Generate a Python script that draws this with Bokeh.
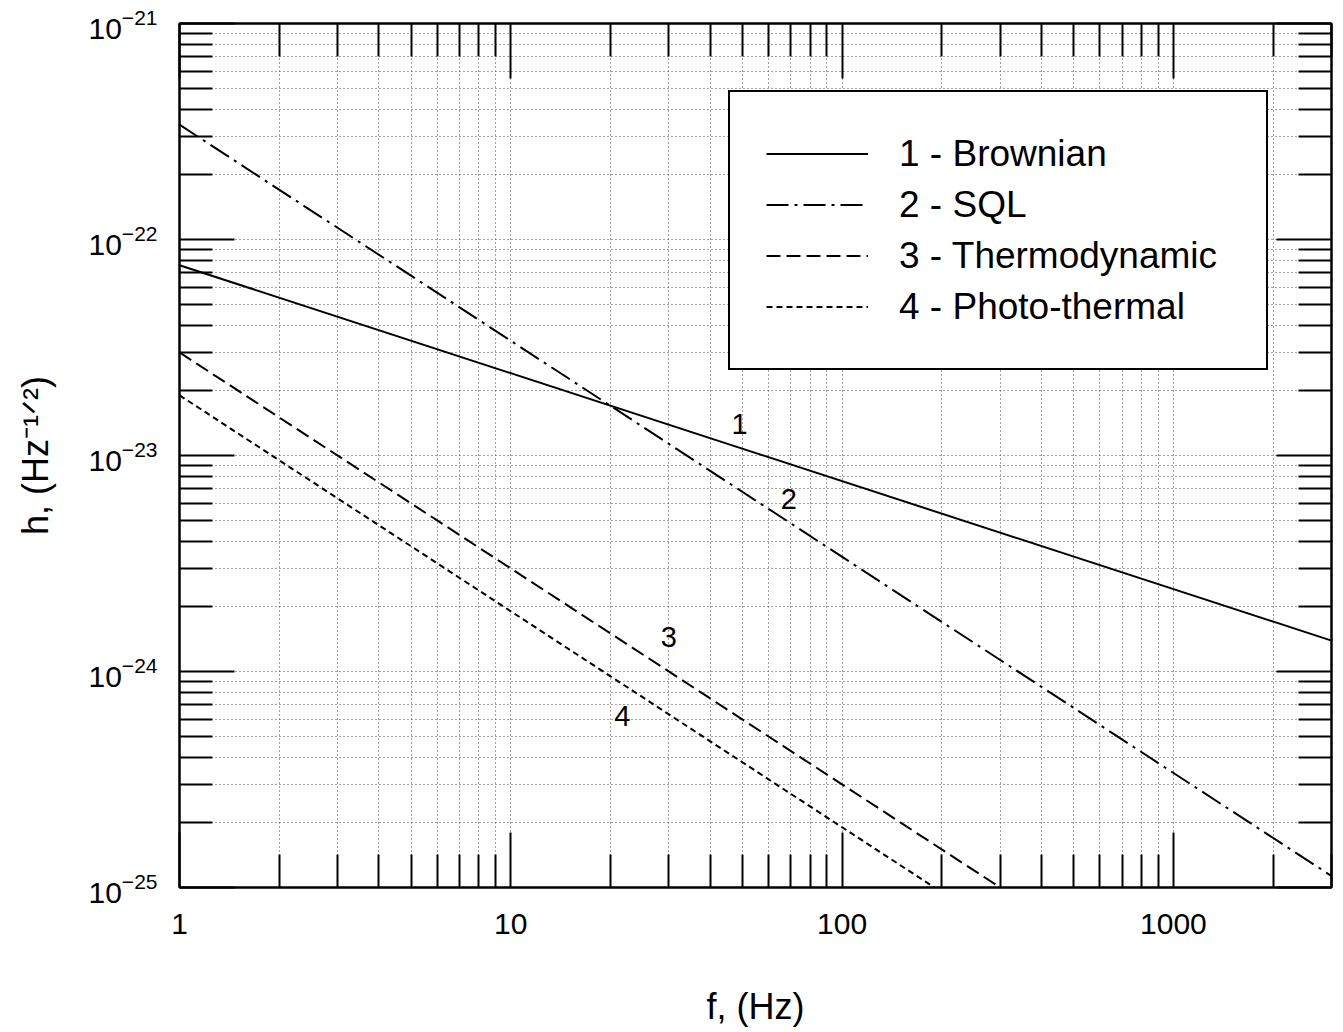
from bokeh.plotting import figure
from bokeh.models import (LogAxis, FixedTicker, Legend, LegendItem, Range1d,
                          BasicTickFormatter, CustomJSTickFormatter, LogTickFormatter)
from bokeh.core.properties import value
from bokeh.embed import file_html
from bokeh.resources import INLINE

FONT = "Liberation Sans"

# ---------------- data ----------------
brownian_f = [1, 3000]
brownian_h = [7.6e-23, 1.39e-24]
sql_f = [1, 3000]
sql_h = [3.4e-22, 1.13e-25]
thermo_f = [1, 300]
thermo_h = [3.0e-23, 1.0e-25]
photo_f = [1, 190]
photo_h = [1.9e-23, 1.0e-25]

legend_labels = ["1 - Brownian", "2 - SQL", "3 - Thermodynamic", "4 - Photo-thermal"]
curve_tags = ["1", "2", "3", "4"]
tag_f = [49, 69, 30, 21.7]
tag_h = [1.4e-23, 6.3e-24, 1.44e-24, 6.2e-25]

x_major = [1, 10, 100, 1000]
x_minor = [2, 3, 4, 5, 6, 7, 8, 9, 20, 30, 40, 50, 60, 70, 80, 90,
           200, 300, 400, 500, 600, 700, 800, 900, 2000, 3000]
x_tick_labels = ["1", "10", "100", "1000"]
y_major = [1e-25, 1e-24, 1e-23, 1e-22, 1e-21]
y_minor = [m * d for d in [1e-25, 1e-24, 1e-23, 1e-22] for m in range(2, 10)]

x_title = "f, (Hz)"
y_title = "h, (Hz\u207b\u00b9\u141f\u00b2)"

# ---------------- figure ----------------
p = figure(width=1343, height=1032, x_axis_type="log", y_axis_type="log",
           x_range=Range1d(1, 3000), y_range=Range1d(1e-25, 1e-21),
           output_backend="svg", toolbar_location=None,
           min_border_left=179, min_border_right=12, min_border_top=23,
           min_border_bottom=145)
p.outline_line_color = "black"
p.outline_line_width = 2
p.background_fill_color = "white"
p.border_fill_color = "white"


def style_axis(ax, major, minor, labels):
    ax.ticker = FixedTicker(ticks=major, minor_ticks=minor)
    ax.axis_line_width = 2
    ax.axis_line_color = "black"
    ax.major_tick_in = 55
    ax.major_tick_out = 0
    ax.minor_tick_in = 33
    ax.minor_tick_out = 0
    ax.major_tick_line_width = 2
    ax.minor_tick_line_width = 2
    ax.major_tick_line_color = "black"
    ax.minor_tick_line_color = "black"
    if labels:
        ax.major_label_text_font = FONT
        ax.major_label_text_color = "black"
        ax.axis_label_text_font = FONT
        ax.axis_label_text_font_style = "normal"
        ax.axis_label_text_font_size = "36px"
        ax.axis_label_text_color = "black"
    else:
        ax.formatter = CustomJSTickFormatter(code="return ''")
        ax.major_label_text_font_size = "0px"
        ax.major_label_standoff = 0


# bottom axis
bx = p.xaxis[0]
style_axis(bx, x_major, x_minor, True)
bx.formatter = BasicTickFormatter()
bx.major_label_overrides = {v: t for v, t in zip(x_major, x_tick_labels)}
bx.major_label_text_font_size = "30px"
bx.major_label_standoff = 26
bx.axis_label = x_title
bx.axis_label_standoff = 49

# left axis
ly = p.yaxis[0]
style_axis(ly, y_major, y_minor, True)
ly.formatter = LogTickFormatter()
ly.major_label_text_font_size = "30px"
ly.major_label_standoff = 22
ly.axis_label = y_title
ly.axis_label_standoff = 30

top_ax = LogAxis()
style_axis(top_ax, x_major, x_minor, False)
p.add_layout(top_ax, "above")
right_ax = LogAxis()
style_axis(right_ax, y_major, y_minor, False)
p.add_layout(right_ax, "right")

for g, major, minor in ((p.xgrid[0], x_major, x_minor), (p.ygrid[0], y_major, y_minor)):
    g.ticker = FixedTicker(ticks=major, minor_ticks=minor)
    g.grid_line_color = "#444444"
    g.grid_line_dash = "1 3"
    g.grid_line_width = 1
    g.minor_grid_line_color = "#444444"
    g.minor_grid_line_dash = "1 3"
    g.minor_grid_line_width = 1

# ---------------- curves ----------------
r1 = p.line(brownian_f, brownian_h, line_color="black", line_width=2)
r2 = p.line(sql_f, sql_h, line_color="black", line_width=2, line_dash="22 6 3 6")
r3 = p.line(thermo_f, thermo_h, line_color="black", line_width=2, line_dash="14 6")
r4 = p.line(photo_f, photo_h, line_color="black", line_width=2, line_dash="6 4")

p.text(x=tag_f, y=tag_h, text=curve_tags, text_font=value(FONT),
       text_font_size=value("29px"), text_align="center", text_baseline="middle",
       text_color="black")

legend = Legend(items=[LegendItem(label=l, renderers=[r])
                       for l, r in zip(legend_labels, [r1, r2, r3, r4])],
                location=(549, 517), glyph_width=102, glyph_height=51, label_height=51,
                label_width=331, label_standoff=31, spacing=0, padding=36, margin=0,
                label_text_font=FONT, label_text_font_size="37px", label_text_color="black",
                border_line_color="black", border_line_width=2, border_line_alpha=1,
                background_fill_color="white", background_fill_alpha=1)
p.add_layout(legend)

open("out.html", "w").write(file_html(p, INLINE))
